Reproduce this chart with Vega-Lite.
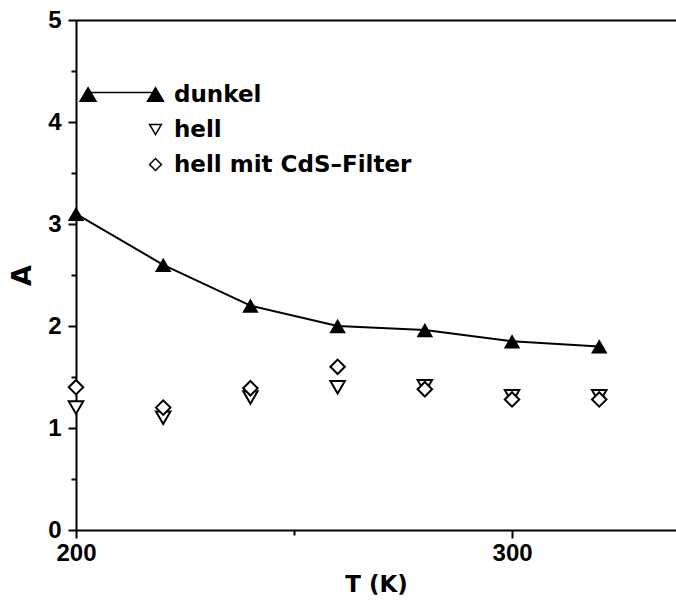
{
  "$schema": "https://vega.github.io/schema/vega-lite/v6.json",
  "width": 600,
  "height": 510,
  "autosize": {"type": "none"},
  "padding": {"left": 76, "top": 20, "right": 0, "bottom": 71},
  "background": "white",
  "config": {
    "view": {"stroke": null},
    "axis": {
      "grid": false,
      "domainColor": "black",
      "domainWidth": 2,
      "tickColor": "black",
      "tickWidth": 2,
      "labelColor": "black",
      "labelFont": "Liberation Sans",
      "labelFontWeight": "bold",
      "labelFontSize": 24,
      "titleColor": "black",
      "titleFont": "DejaVu Sans",
      "titleFontWeight": "bold"
    }
  },
  "data": {
    "values": [
      {"series": "dunkel", "T": 200, "A": 3.1},
      {"series": "dunkel", "T": 220, "A": 2.6},
      {"series": "dunkel", "T": 240, "A": 2.2},
      {"series": "dunkel", "T": 260, "A": 2.0},
      {"series": "dunkel", "T": 280, "A": 1.96},
      {"series": "dunkel", "T": 300, "A": 1.85},
      {"series": "dunkel", "T": 320, "A": 1.8},
      {"series": "hell", "T": 200, "A": 1.2},
      {"series": "hell", "T": 220, "A": 1.1},
      {"series": "hell", "T": 240, "A": 1.3},
      {"series": "hell", "T": 260, "A": 1.4},
      {"series": "hell", "T": 280, "A": 1.41},
      {"series": "hell", "T": 300, "A": 1.31},
      {"series": "hell", "T": 320, "A": 1.31},
      {"series": "hell mit CdS–Filter", "T": 200, "A": 1.4},
      {"series": "hell mit CdS–Filter", "T": 220, "A": 1.2},
      {"series": "hell mit CdS–Filter", "T": 240, "A": 1.39},
      {"series": "hell mit CdS–Filter", "T": 260, "A": 1.6},
      {"series": "hell mit CdS–Filter", "T": 280, "A": 1.38},
      {"series": "hell mit CdS–Filter", "T": 300, "A": 1.28},
      {"series": "hell mit CdS–Filter", "T": 320, "A": 1.28}
    ]
  },
  "resolve": {"axis": {"x": "independent", "y": "independent"}},
  "layer": [
    {
      "transform": [{"filter": "datum.series === 'dunkel'"}],
      "mark": {
        "type": "line",
        "color": "black",
        "strokeWidth": 2,
        "point": {"shape": "M -1 0.866 L 1 0.866 L 0 -0.866 Z", "size": 272, "filled": true, "color": "black", "opacity": 1}
      },
      "encoding": {
        "x": {
          "field": "T", "type": "quantitative",
          "scale": {"domain": [200, 337.6], "nice": false, "zero": false},
          "axis": {"orient": "bottom", "values": [200, 300], "tickSize": 8, "labelPadding": 3, "labelFlush": false, "title": "T (K)", "titleFontSize": 23, "titlePadding": 8}
        },
        "y": {
          "field": "A", "type": "quantitative",
          "scale": {"domain": [0, 5], "nice": false},
          "axis": {"orient": "left", "values": [0, 1, 2, 3, 4, 5], "tickSize": 8, "labelPadding": 7, "labelFlush": false, "title": "A", "titleFontSize": 27, "titlePadding": 11}
        }
      }
    },
    {
      "transform": [{"filter": "datum.series !== 'dunkel'"}],
      "mark": {"type": "point", "filled": true, "stroke": "black", "strokeWidth": 2, "size": 210, "opacity": 1},
      "encoding": {
        "x": {"field": "T", "type": "quantitative", "axis": {"orient": "bottom", "values": [250], "tickSize": 5, "labels": false, "domain": false, "title": null}},
        "y": {"field": "A", "type": "quantitative", "axis": {"orient": "left", "values": [0.5, 1.5, 2.5, 3.5, 4.5], "tickSize": 5, "labels": false, "domain": false, "title": null}},
        "shape": {
          "field": "series", "type": "nominal",
          "scale": {
            "domain": ["dunkel", "hell", "hell mit CdS–Filter"],
            "range": [
              "M -11.4 -0.35 L 0 -0.35 M -1.35 1.15 L 1.35 1.15 L 0 -1.15 Z M -12.75 1.15 L -10.05 1.15 L -11.4 -1.15 Z",
              "M -1 -0.866 L 1 -0.866 L 0 0.866 Z",
              "diamond"
            ]
          },
          "legend": {"title": null, "orient": "none", "legendX": 68, "legendY": 63, "symbolSize": 140, "labelFont": "DejaVu Sans", "labelFontWeight": "bold", "labelFontSize": 23, "labelColor": "black", "labelOffset": 7, "labelLimit": 400, "rowPadding": 11, "padding": 0}
        },
        "fill": {
          "field": "series", "type": "nominal",
          "scale": {"domain": ["dunkel", "hell", "hell mit CdS–Filter"], "range": ["black", "white", "white"]},
          "legend": {"title": null, "orient": "none", "legendX": 68, "legendY": 63, "symbolSize": 140, "labelFont": "DejaVu Sans", "labelFontWeight": "bold", "labelFontSize": 23, "labelColor": "black", "labelOffset": 7, "labelLimit": 400, "rowPadding": 11, "padding": 0}
        }
      }
    },
    {
      "transform": [{"filter": "datum.series === 'dunkel'"}],
      "mark": {"type": "point", "opacity": 0},
      "encoding": {
        "x": {"field": "T", "type": "quantitative", "axis": {"orient": "top", "ticks": false, "labels": false, "title": null, "domain": true}},
        "y": {"field": "A", "type": "quantitative", "axis": null}
      }
    }
  ]
}
